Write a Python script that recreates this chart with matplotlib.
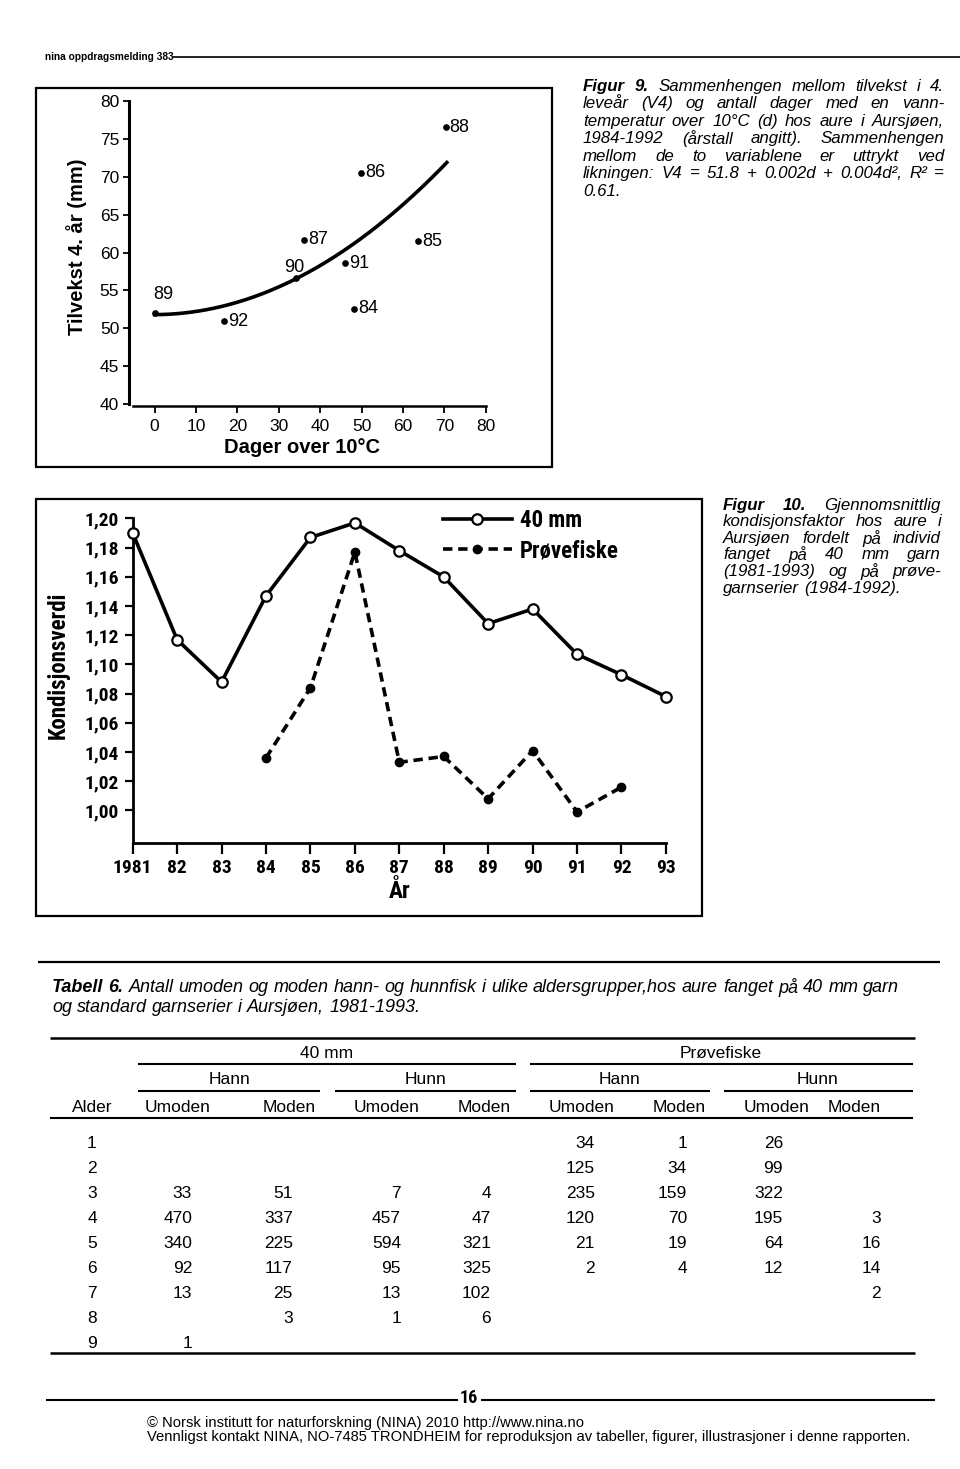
import numpy as np
import matplotlib
matplotlib.use('Agg')
import matplotlib.pyplot as plt
from matplotlib import font_manager
from matplotlib.patches import Rectangle
from matplotlib.lines import Line2D

# Figur 9: tilvekst 4. år mot dager over 10 C
dager = [48.1, 63.6, 49.8, 36.2, 70.3, 0.0, 34.1, 45.9, 16.8]
tilvekst = [52.6, 61.5, 70.5, 61.7, 76.5, 52.0, 56.7, 58.6, 50.9]
aarstall9 = ['84', '85', '86', '87', '88', '89', '90', '91', '92']
koeff = [51.8, 0.002, 0.004]   # V4 = a + b*d + c*d^2
d_slutt = 70.6

# Figur 10: kondisjonsfaktor
aar_40mm = [1981, 1982, 1983, 1984, 1985, 1986, 1987, 1988, 1989, 1990, 1991, 1992, 1993]
k_40mm = [1.190, 1.117, 1.088, 1.147, 1.187, 1.197, 1.178, 1.160, 1.128, 1.138, 1.107, 1.093, 1.078]
aar_prove = [1984, 1985, 1986, 1987, 1988, 1989, 1990, 1991, 1992]
k_prove = [1.036, 1.084, 1.177, 1.033, 1.037, 1.008, 1.041, 0.999, 1.016]
xlabels10 = ['1981', '82', '83', '84', '85', '86', '87', '88', '89', '90', '91', '92', '93']
yticks10 = [1.00, 1.02, 1.04, 1.06, 1.08, 1.10, 1.12, 1.14, 1.16, 1.18, 1.20]
ylabels10 = ['1,00', '1,02', '1,04', '1,06', '1,08', '1,10', '1,12', '1,14', '1,16', '1,18', '1,20']

# Tabell 6
alder = [1, 2, 3, 4, 5, 6, 7, 8, 9]
hann40_umoden = [None, None, 33, 470, 340, 92, 13, None, 1]
hann40_moden = [None, None, 51, 337, 225, 117, 25, 3, None]
hunn40_umoden = [None, None, 7, 457, 594, 95, 13, 1, None]
hunn40_moden = [None, None, 4, 47, 321, 325, 102, 6, None]
hann_pr_umoden = [34, 125, 235, 120, 21, 2, None, None, None]
hann_pr_moden = [1, 34, 159, 70, 19, 4, None, None, None]
hunn_pr_umoden = [26, 99, 322, 195, 64, 12, None, None, None]
hunn_pr_moden = [None, None, None, 3, 16, 14, 2, None, None]

W, H = 960, 1469
names = {f.name for f in font_manager.fontManager.ttflist}
sans = 'Liberation Sans' if 'Liberation Sans' in names else 'DejaVu Sans'
narrow = sans
for n in ['Liberation Sans Narrow', 'Roboto Condensed', 'DejaVu Sans Condensed', 'Open Sans Condensed']:
    if n in names:
        narrow = n
        break
plt.rcParams['font.family'] = [sans, 'DejaVu Sans']


def rect(x0, y0, x1, y1):
    return [x0 / W, 1 - y1 / H, (x1 - x0) / W, (y1 - y0) / H]


fig = plt.figure(figsize=(W / 100, H / 100), dpi=100)
bg = fig.add_axes([0, 0, 1, 1])
bg.set_xlim(0, W)
bg.set_ylim(H, 0)
bg.axis('off')
rend = fig.canvas.get_renderer()


def hline(x0, x1, y, lw=1.2):
    bg.plot([x0, x1], [y, y], color='k', lw=lw, solid_capstyle='butt')


def tekstlinje(ordliste, x0, x1, y, size, just=True, family=None):
    family = family or sans
    arts = []
    for t, vekt in ordliste:
        arts.append(bg.text(0, y, t, fontsize=size, fontstyle='italic', fontweight=vekt,
                            family=family, va='center', ha='left'))
    w = [a.get_window_extent(rend).width for a in arts]
    if just and len(arts) > 1:
        gap = (x1 - x0 - sum(w)) / (len(arts) - 1)
    else:
        gap = size * 100 / 72 * 0.28
    x = x0
    for a, wi in zip(arts, w):
        a.set_x(x)
        x += wi + gap


def avsnitt(linjer, nbold, x0, x1, y0, dy, size):
    for i, l in enumerate(linjer):
        ord_ = l.split()
        ol = [(o, 'bold' if (i == 0 and j < nbold) else 'normal') for j, o in enumerate(ord_)]
        tekstlinje(ol, x0, x1, y0 + i * dy, size, just=(i < len(linjer) - 1))


# header
bg.text(45, 57, 'nina oppdragsmelding 383', fontsize=7.3, fontweight='bold', va='center', ha='left')
hline(173, 960, 57, lw=1.2)

# ---------------- Figur 9 ----------------
bg.add_patch(Rectangle((36, 88), 552 - 36, 467 - 88, fill=False, lw=1.6, ec='k'))
ax9 = fig.add_axes(rect(129, 93.4, 494, 406.3))
ax9.set_facecolor('none')
ax9.set_xlim(-6.2, 82)
ax9.set_ylim(39.7, 81)
for s in ['top', 'right']:
    ax9.spines[s].set_visible(False)
ax9.spines['left'].set_bounds(40, 80)
ax9.spines['left'].set_linewidth(2.2)
ax9.spines['bottom'].set_bounds(-5.2, 80)
ax9.spines['bottom'].set_linewidth(1.8)
ax9.set_yticks(np.arange(40, 81, 5))
ax9.set_xticks(np.arange(0, 81, 10))
ax9.tick_params(axis='y', direction='out', length=4, width=1.3, pad=3, labelsize=12.5)
ax9.tick_params(axis='x', direction='out', length=5, width=1.3, pad=4, labelsize=12.5)
dd = np.linspace(0, d_slutt, 200)
ax9.plot(dd, koeff[0] + koeff[1] * dd + koeff[2] * dd ** 2, color='k', lw=2.6, clip_on=False)
ax9.plot(dager, tilvekst, 'o', color='k', ms=3.8, clip_on=False)
for d, v, lab in zip(dager, tilvekst, aarstall9):
    if lab == '89':
        ax9.annotate(lab, (d, v), xytext=(-1, 7), textcoords='offset points', fontsize=13, ha='left', va='bottom')
    elif lab == '90':
        ax9.annotate(lab, (d, v), xytext=(-1, 1), textcoords='offset points', fontsize=13, ha='center', va='bottom')
    else:
        ax9.annotate(lab, (d, v), xytext=(3, 0), textcoords='offset points', fontsize=13, ha='left', va='center')
bg.text(302, 447, 'Dager over 10°C', fontsize=14.5, fontweight='bold', ha='center', va='center')
bg.text(77, 247, 'Tilvekst 4. år (mm)', rotation=90, fontsize=14.5, fontweight='bold', ha='center', va='center')

avsnitt(['Figur 9. Sammenhengen mellom tilvekst i 4.',
         'leveår (V4) og antall dager med en vann-',
         'temperatur over 10°C (d) hos aure i Aursjøen,',
         '1984-1992 (årstall angitt). Sammenhengen',
         'mellom de to variablene er uttrykt ved',
         'likningen: V4 = 51.8 + 0.002d + 0.004d², R² =',
         '0.61.'], 2, 583, 944, 86, 17.5, 12.2)

# ---------------- Figur 10 ----------------
bg.add_patch(Rectangle((36, 499), 702 - 36, 916 - 499, fill=False, lw=1.6, ec='k'))
ax10 = fig.add_axes(rect(132.7, 511.2, 665.9, 842.6))
ax10.set_facecolor('none')
ax10.set_xlim(1981, 1993)
ax10.set_ylim(0.978, 1.205)
for s in ['top', 'right']:
    ax10.spines[s].set_visible(False)
ax10.spines['left'].set_bounds(0.978, 1.20)
ax10.spines['left'].set_linewidth(2.0)
ax10.spines['bottom'].set_linewidth(2.0)
ax10.set_yticks(yticks10)
ax10.set_yticklabels(ylabels10, family=[narrow, 'DejaVu Sans'], fontweight='bold', fontsize=14)
ax10.set_xticks(aar_40mm)
ax10.set_xticklabels(xlabels10, family=[narrow, 'DejaVu Sans'], fontweight='bold', fontsize=14)
ax10.tick_params(axis='y', direction='out', length=6, width=1.6, pad=4)
ax10.tick_params(axis='x', direction='out', length=8, width=1.6, pad=4)
ax10.plot(aar_40mm, k_40mm, '-o', color='k', lw=2.6, ms=7.5, mfc='white', mew=1.6, clip_on=False, zorder=3)
ax10.plot(aar_prove, k_prove, '--o', color='k', lw=2.6, ms=6, mfc='k', dashes=(2.6, 1.6), clip_on=False, zorder=3)
ax10.set_xlabel('År', family=[narrow, 'DejaVu Sans'], fontsize=17, fontweight='bold', labelpad=2)
bg.text(58, 665, 'Kondisjonsverdi', rotation=90, family=[narrow, 'DejaVu Sans'], fontsize=16.5,
        fontweight='bold', ha='center', va='center')
handles = [Line2D([], [], ls='-', marker='o', color='k', lw=2.6, ms=7.5, mfc='white', mew=1.6),
           Line2D([], [], ls='--', marker='o', color='k', lw=2.6, ms=6, mfc='k', dashes=(2.6, 1.6))]
leg = ax10.legend(handles, ['40 mm', 'Prøvefiske'], loc='upper left', frameon=False,
                  bbox_to_anchor=(443 / W, 1 - 509 / H), bbox_transform=fig.transFigure,
                  prop={'family': [narrow, 'DejaVu Sans'], 'weight': 'bold', 'size': 16.5},
                  handlelength=3.0, handletextpad=0.35, labelspacing=0.32, borderpad=0, borderaxespad=0)

avsnitt(['Figur 10. Gjennomsnittlig',
         'kondisjonsfaktor hos aure i',
         'Aursjøen fordelt på individ',
         'fanget på 40 mm garn',
         '(1981-1993) og på prøve-',
         'garnserier (1984-1992).'], 2, 723, 941, 505, 16.6, 12.2)

# ---------------- Tabell 6 ----------------
hline(38, 940, 962, lw=1.6)
tekstlinje([('Tabell', 'bold'), ('6.', 'bold')] + [(o, 'normal') for o in
           'Antall umoden og moden hann- og hunnfisk i ulike aldersgrupper,hos aure fanget på 40 mm garn'.split()],
           52, 900, 987, 13, just=False)
tekstlinje([(o, 'normal') for o in 'og standard garnserier i Aursjøen, 1981-1993.'.split()],
           52, 900, 1007, 13, just=False)

ts = 12.5
hline(50, 915, 1037.5, lw=1.8)
bg.text(327, 1054, '40 mm', fontsize=ts, ha='center', va='center')
bg.text(721, 1054, 'Prøvefiske', fontsize=ts, ha='center', va='center')
hline(138, 516, 1064, lw=1.5)
hline(530, 913, 1064, lw=1.5)
for xc, lab in [(230, 'Hann'), (426, 'Hunn'), (620, 'Hann'), (818, 'Hunn')]:
    bg.text(xc, 1080, lab, fontsize=ts, ha='center', va='center')
for x0, x1 in [(138, 320), (335, 516), (530, 710), (724, 913)]:
    hline(x0, x1, 1091, lw=1.5)
bg.text(92, 1107, 'Alder', fontsize=ts, ha='center', va='center')
kol_x = [192, 293, 401, 491, 595, 687, 783, 881]
kol_hode = [178, 289, 387, 484, 582, 679, 777, 881]
for xc, i in zip(kol_hode, range(8)):
    bg.text(xc, 1107, 'Umoden' if i % 2 == 0 else 'Moden', fontsize=ts,
            ha='center' if i < 7 else 'right', va='center')
hline(50, 913, 1118, lw=1.5)
kolonner = [hann40_umoden, hann40_moden, hunn40_umoden, hunn40_moden,
            hann_pr_umoden, hann_pr_moden, hunn_pr_umoden, hunn_pr_moden]
for r, a in enumerate(alder):
    y = 1143.3 + 25 * r
    bg.text(92, y, str(a), fontsize=ts, ha='center', va='center')
    for xk, kol in zip(kol_x, kolonner):
        if kol[r] is not None:
            bg.text(xk, y, str(kol[r]), fontsize=ts, ha='right', va='center')
hline(50, 915, 1353, lw=1.8)

# footer
hline(46, 458, 1400, lw=1.5)
hline(481, 935, 1400, lw=1.5)
bg.text(469, 1398, '16', fontsize=13, fontweight='bold', family=[narrow, 'DejaVu Sans'], ha='center', va='center')
bg.text(147, 1423, '© Norsk institutt for naturforskning (NINA) 2010 http://www.nina.no', fontsize=10.6, ha='left', va='center')
bg.text(147, 1437, 'Vennligst kontakt NINA, NO-7485 TRONDHEIM for reproduksjon av tabeller, figurer, illustrasjoner i denne rapporten.',
        fontsize=10.6, ha='left', va='center')

fig.savefig('out.png', dpi=100)
